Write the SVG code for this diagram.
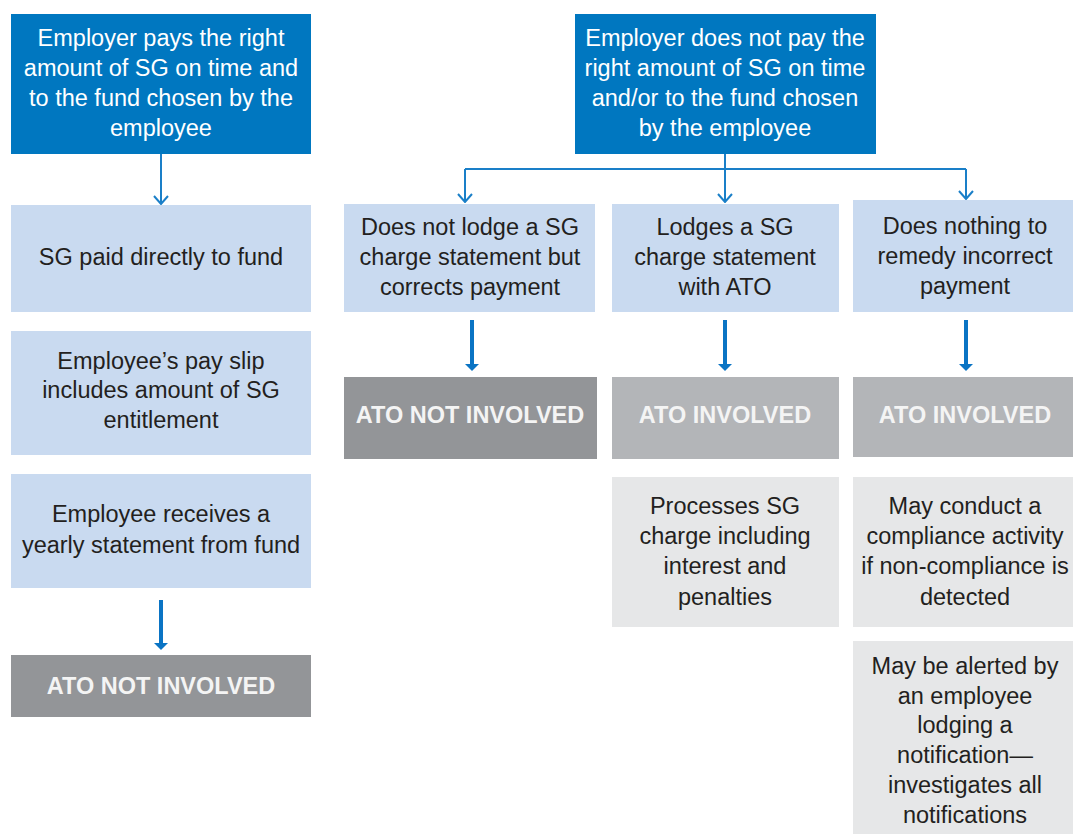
<svg xmlns="http://www.w3.org/2000/svg" width="1073" height="834" viewBox="0 0 1073 834">
<style>
.t{font-family:"Liberation Sans",Arial,sans-serif;font-size:23.5px;text-anchor:middle;fill:#231f20}
.w{fill:#ffffff}
.b{font-weight:bold;font-size:23.5px;fill:#f4f4f4}
.blue{fill:#0077c0}
.lb{fill:#c9daf0}
.dg{fill:#939598}
.mg{fill:#b3b5b8}
.lg{fill:#e6e7e8}
.thin{stroke:#1a7fc8;stroke-width:2;fill:none}
.thick{stroke:#0a74c4;stroke-width:4;fill:none}
</style>
<defs>
<marker id="open" viewBox="0 0 10 16" refX="9" refY="8" markerWidth="10" markerHeight="16" markerUnits="userSpaceOnUse" orient="auto">
<path d="M1,1 L9,8 L1,15" fill="none" stroke="#1a7fc8" stroke-width="2"/>
</marker>
<marker id="solid" viewBox="0 0 7 14" refX="1" refY="7" markerWidth="7" markerHeight="14" markerUnits="userSpaceOnUse" orient="auto">
<path d="M0,0 L7,7 L0,14 Z" fill="#0a74c4"/>
</marker>
</defs>
<rect width="1073" height="834" fill="#ffffff"/>

<g id="connectors">
<line class="thin" x1="161" y1="154" x2="161" y2="204" marker-end="url(#open)"/>
<path class="thin" d="M725,154 V169 M465,169 H966"/>
<line class="thin" x1="465" y1="169" x2="465" y2="202" marker-end="url(#open)"/>
<line class="thin" x1="725" y1="169" x2="725" y2="202" marker-end="url(#open)"/>
<line class="thin" x1="966" y1="169" x2="966" y2="199" marker-end="url(#open)"/>
<line class="thick" x1="161" y1="600" x2="161" y2="644" marker-end="url(#solid)"/>
<line class="thick" x1="472" y1="320" x2="472" y2="365" marker-end="url(#solid)"/>
<line class="thick" x1="725" y1="320" x2="725" y2="365" marker-end="url(#solid)"/>
<line class="thick" x1="966" y1="320" x2="966" y2="365" marker-end="url(#solid)"/>
</g>

<g id="top-left">
<rect class="blue" x="11" y="14" width="300" height="140"/>
<text class="t w" x="161" y="46">Employer pays the right</text>
<text class="t w" x="161" y="76">amount of SG on time and</text>
<text class="t w" x="161" y="106">to the fund chosen by the</text>
<text class="t w" x="161" y="136">employee</text>
</g>

<g id="sg-paid">
<rect class="lb" x="11" y="205" width="300" height="107"/>
<text class="t" x="161" y="265">SG paid directly to fund</text>
</g>

<g id="pay-slip">
<rect class="lb" x="11" y="331" width="300" height="124"/>
<text class="t" x="161" y="369">Employee’s pay slip</text>
<text class="t" x="161" y="398">includes amount of SG</text>
<text class="t" x="161" y="428">entitlement</text>
</g>

<g id="yearly-statement">
<rect class="lb" x="11" y="474" width="300" height="114"/>
<text class="t" x="161" y="522">Employee receives a</text>
<text class="t" x="161" y="553">yearly statement from fund</text>
</g>

<g id="left-not-involved">
<rect class="dg" x="11" y="655" width="300" height="62"/>
<text class="t b" x="161" y="694">ATO NOT INVOLVED</text>
</g>

<g id="top-right">
<rect class="blue" x="575" y="14" width="301" height="140"/>
<text class="t w" x="725" y="46">Employer does not pay the</text>
<text class="t w" x="725" y="76">right amount of SG on time</text>
<text class="t w" x="725" y="106">and/or to the fund chosen</text>
<text class="t w" x="725" y="136">by the employee</text>
</g>

<g id="corrects-payment">
<rect class="lb" x="344" y="204" width="251" height="108"/>
<text class="t" x="470" y="235">Does not lodge a SG</text>
<text class="t" x="470" y="265">charge statement but</text>
<text class="t" x="470" y="295">corrects payment</text>
</g>

<g id="lodges-statement">
<rect class="lb" x="612" y="204" width="227" height="108"/>
<text class="t" x="725" y="235">Lodges a SG</text>
<text class="t" x="725" y="265">charge statement</text>
<text class="t" x="725" y="295">with ATO</text>
</g>

<g id="does-nothing">
<rect class="lb" x="853" y="200" width="220" height="112"/>
<text class="t" x="965" y="234">Does nothing to</text>
<text class="t" x="965" y="264">remedy incorrect</text>
<text class="t" x="965" y="294">payment</text>
</g>

<g id="mid-not-involved">
<rect class="dg" x="344" y="377" width="253" height="82"/>
<text class="t b" x="470" y="423">ATO NOT INVOLVED</text>
</g>

<g id="involved-1">
<rect class="mg" x="612" y="377" width="227" height="82"/>
<text class="t b" x="725" y="423">ATO INVOLVED</text>
</g>

<g id="involved-2">
<rect class="mg" x="853" y="377" width="220" height="80"/>
<text class="t b" x="965" y="423">ATO INVOLVED</text>
</g>

<g id="processes">
<rect class="lg" x="612" y="477" width="227" height="150"/>
<text class="t" x="725" y="514">Processes SG</text>
<text class="t" x="725" y="544">charge including</text>
<text class="t" x="725" y="574">interest and</text>
<text class="t" x="725" y="605">penalties</text>
</g>

<g id="compliance">
<rect class="lg" x="853" y="477" width="220" height="150"/>
<text class="t" x="965" y="514">May conduct a</text>
<text class="t" x="965" y="544">compliance activity</text>
<text class="t" x="965" y="574">if non-compliance is</text>
<text class="t" x="965" y="605">detected</text>
</g>

<g id="alerted">
<rect class="lg" x="853" y="641" width="220" height="193"/>
<text class="t" x="965" y="674">May be alerted by</text>
<text class="t" x="965" y="704">an employee</text>
<text class="t" x="965" y="733">lodging a</text>
<text class="t" x="965" y="763">notification—</text>
<text class="t" x="965" y="793">investigates all</text>
<text class="t" x="965" y="823">notifications</text>
</g>
</svg>
